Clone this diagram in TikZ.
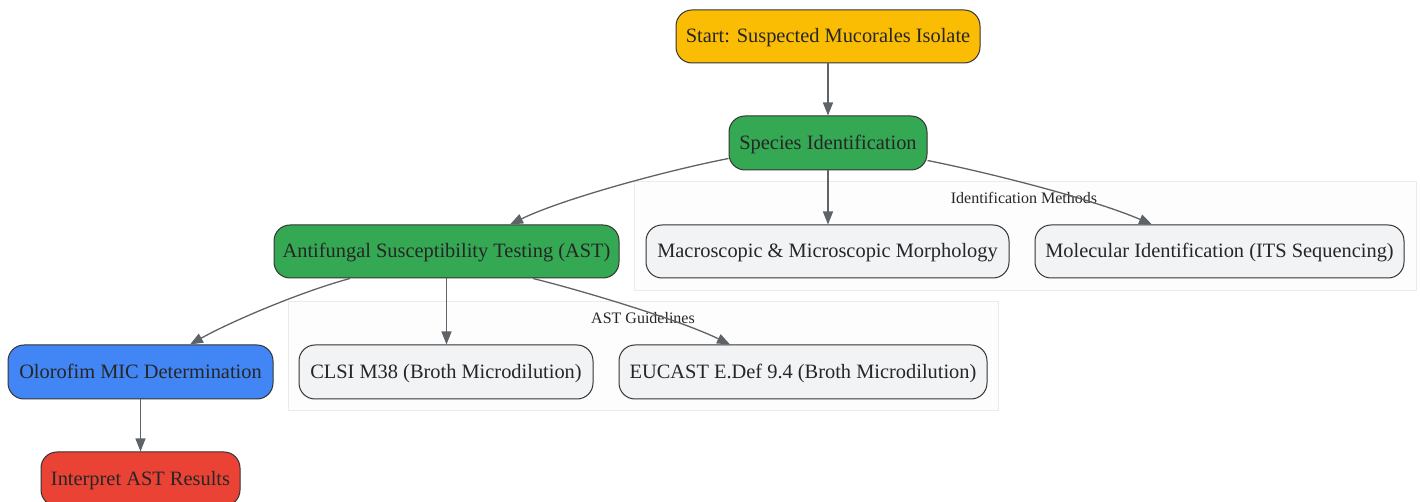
\documentclass[tikz,border=0pt]{standalone}
\usepackage{fontspec}
\setmainfont{Liberation Serif}
\usetikzlibrary{arrows.meta,calc}
\definecolor{cyellow}{HTML}{FBBC04}
\definecolor{cgreen}{HTML}{34A853}
\definecolor{cblue}{HTML}{4285F4}
\definecolor{cred}{HTML}{EA4335}
\definecolor{cgray}{HTML}{F1F3F4}
\definecolor{cborder}{HTML}{333333}
\definecolor{cedge}{HTML}{5F6368}
\definecolor{ctext}{HTML}{262626}
\definecolor{cclfill}{HTML}{FDFDFD}
\definecolor{cclline}{HTML}{EBEBEB}
\tikzset{
  box/.style={draw=cborder, line width=1pt, rounded corners=16pt, inner sep=0pt,
    text=ctext, font=\fontsize{20.4}{24}\selectfont, align=center,
    text height=18pt, text depth=5pt},
  clusterbox/.style={draw=cclline, fill=cclfill, line width=0.8pt},
  clusterlabel/.style={text=ctext, font=\fontsize{16}{19}\selectfont, inner sep=0pt},
  edge/.style={draw=cedge, line width=1.3pt, -{Triangle[length=13pt,width=10pt]}},
}
\begin{document}
\begin{tikzpicture}[x=1pt,y=1pt]
\useasboundingbox (0,0) rectangle (1420,502);
% clusters
\draw[clusterbox] (634,212) rectangle (1416,321);
\node[clusterlabel] (lblid) at (1024,304) {Identification Methods};
\draw[clusterbox] (288,92) rectangle (998,201);
\node[clusterlabel] (lblast) at (643,184) {AST Guidelines};
% nodes
\node[box, fill=cyellow, minimum width=304pt, minimum height=53pt] (start) at (828,465.5) {Start: Suspected Mucorales Isolate};
\node[box, fill=cgreen, minimum width=198pt, minimum height=54pt] (sp) at (828,359) {Species Identification};
\node[box, fill=cgreen, minimum width=345pt, minimum height=53pt] (ast) at (446.5,250.5) {Antifungal Susceptibility Testing (AST)};
\node[box, fill=cgray, minimum width=363pt, minimum height=53pt] (mac) at (827.5,250.5) {Macroscopic \& Microscopic Morphology};
\node[box, fill=cgray, minimum width=369pt, minimum height=53pt] (mol) at (1219.5,250.5) {Molecular Identification (ITS Sequencing)};
\node[box, fill=cblue, minimum width=265pt, minimum height=54pt] (olo) at (140.5,130) {Olorofim MIC Determination};
\node[box, fill=cgray, minimum width=294pt, minimum height=54pt] (clsi) at (446,130) {CLSI M38 (Broth Microdilution)};
\node[box, fill=cgray, minimum width=368pt, minimum height=54pt] (euc) at (803,130) {EUCAST E.Def 9.4 (Broth Microdilution)};
\node[box, fill=cred, minimum width=199pt, minimum height=54pt] (int) at (140.5,23) {Interpret AST Results};
% edges
\draw[edge] (start.south) -- (sp.north);
\draw[edge] ([yshift=12pt]sp.south west) .. controls (660,330) and (560,302) .. ([xshift=63.5pt]ast.north);
\draw[edge] (sp.south) -- (sp.south |- mac.north);
\draw[edge] ([yshift=10pt]sp.south east) .. controls (995,328) and (1095,302) .. ([xshift=-67.5pt]mol.north);
\draw[edge] ([xshift=-96.5pt]ast.south) .. controls (300,210) and (230,180) .. ([xshift=49.5pt]olo.north);
\draw[edge] (ast.south) -- (ast.south |- clsi.north);
\draw[edge] ([xshift=86.5pt]ast.south) .. controls (580,212) and (680,182) .. ([xshift=-73pt]euc.north);
\draw[edge] (olo.south) -- (int.north);
\end{tikzpicture}
\end{document}
